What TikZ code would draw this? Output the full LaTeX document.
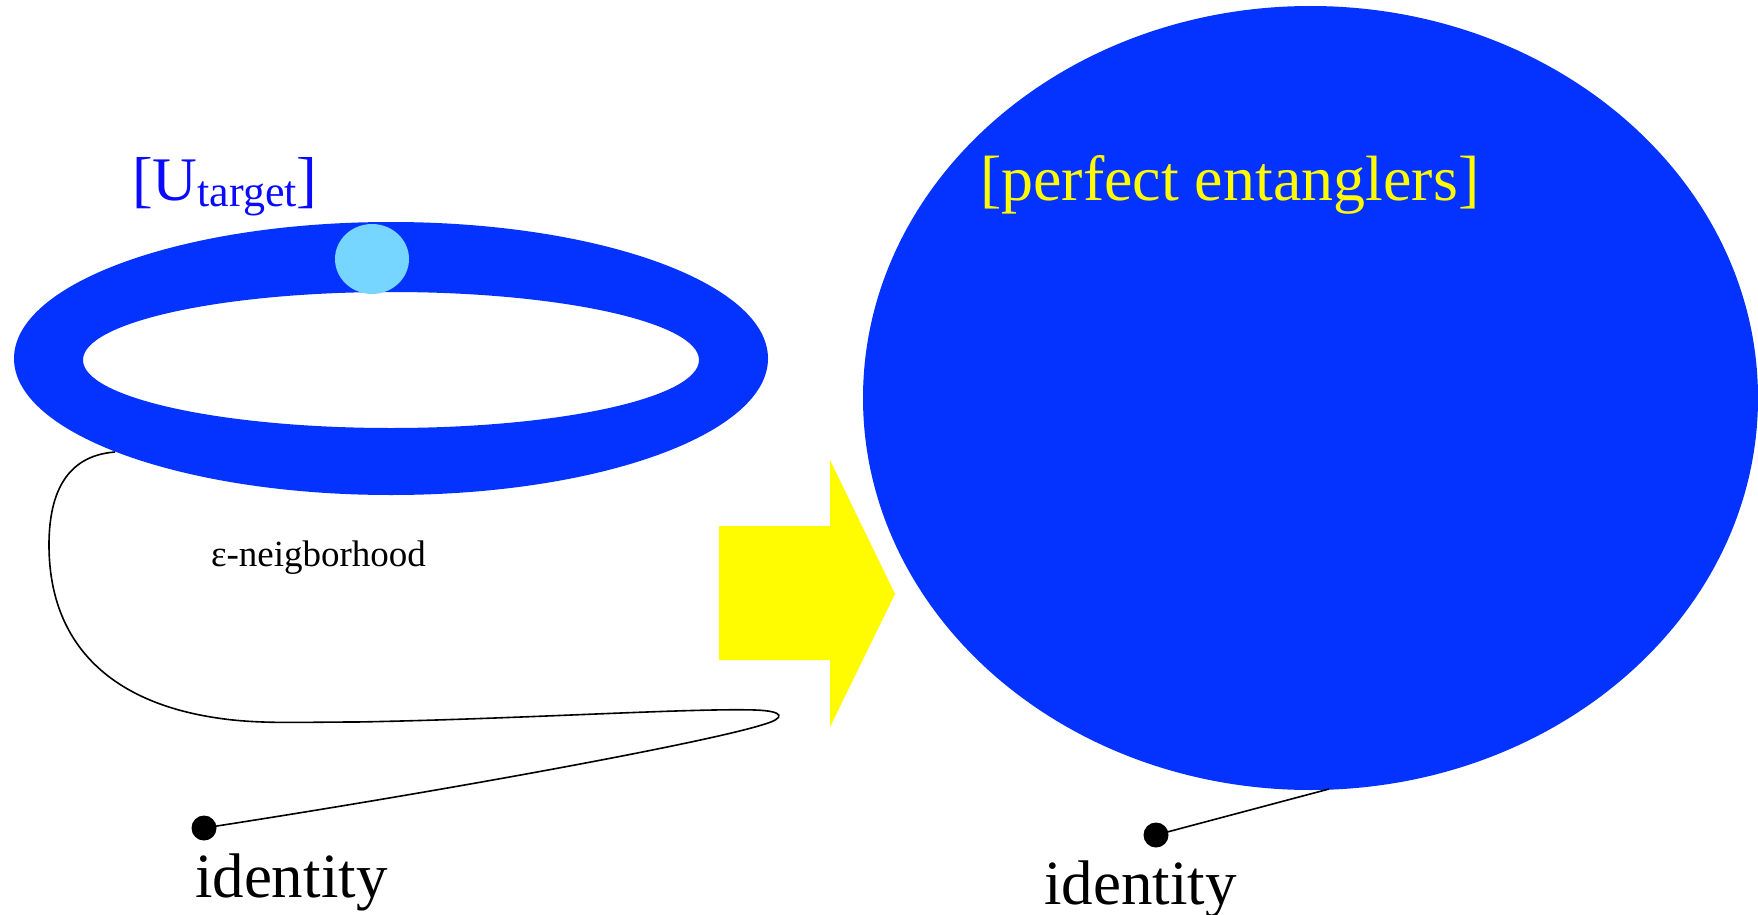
\documentclass[tikz,border=0pt]{standalone}
\usepackage{fontspec}
\setmainfont{Liberation Serif}
\definecolor{ringblue}{RGB}{4,51,255}
\definecolor{spotblue}{RGB}{118,214,255}
\definecolor{arrowyellow}{RGB}{255,251,0}
\definecolor{textblue}{RGB}{10,10,255}
\tikzset{
  lbl/.style={anchor=base west, inner sep=0pt, outer sep=0pt},
  dotnode/.style={circle, fill=black, inner sep=0pt, minimum size=25pt},
  wire/.style={black, line width=1.6pt}
}
\begin{document}
\begin{tikzpicture}[x=1pt,y=-1pt]
\useasboundingbox (0,0) rectangle (1758,915);
% ring (epsilon-neighbourhood)
\fill[ringblue, even odd rule] (391,358.5) ellipse [x radius=377, y radius=136.5]
                               (391,360) ellipse [x radius=308, y radius=68];
\fill[spotblue] (372,259) ellipse [x radius=37, y radius=35];
% big set of perfect entanglers
\fill[ringblue] (1310.5,398) ellipse [x radius=447.5, y radius=392];
% yellow arrow
\fill[arrowyellow] (719,526) -- (830,526) -- (830,460) -- (895,594) -- (830,727) -- (830,660) -- (719,660) -- cycle;
% labels
\node[lbl, text=textblue, font=\fontsize{62}{74}\selectfont] (utarget) at (132,200)
  {[U\raisebox{-6pt}{\fontsize{44}{52}\selectfont target}]};
\node[lbl, text=arrowyellow, font=\fontsize{64}{77}\selectfont] (pe) at (980,200) {[perfect entanglers]};
\node[lbl, font=\fontsize{37}{44}\selectfont] (eps) at (211,566) {ε-neigborhood};
\node[lbl, font=\fontsize{63}{76}\selectfont] (idL) at (195,897) {identity};
\node[lbl, font=\fontsize{63}{76}\selectfont] (idR) at (1044,904) {identity};
% dots and paths
\node[dotnode] (dotL) at (204,828) {};
\node[dotnode] (dotR) at (1156,835) {};
\coordinate (start) at (115,452);
\coordinate (peEdge) at (1329,789);
\draw[wire] (start) .. controls (62,456) and (49,500) .. (49,545)
  .. controls (49,635) and (100,695) .. (200,715)
  .. controls (250,725) and (290,722) .. (357,722)
  .. controls (520,719) and (690,708) .. (755,710)
  .. controls (785,711) and (785,718) .. (765,724)
  .. controls (710,742) and (450,790) .. (dotL.center);
\draw[wire] (dotR.center) -- (peEdge);
\end{tikzpicture}
\end{document}
